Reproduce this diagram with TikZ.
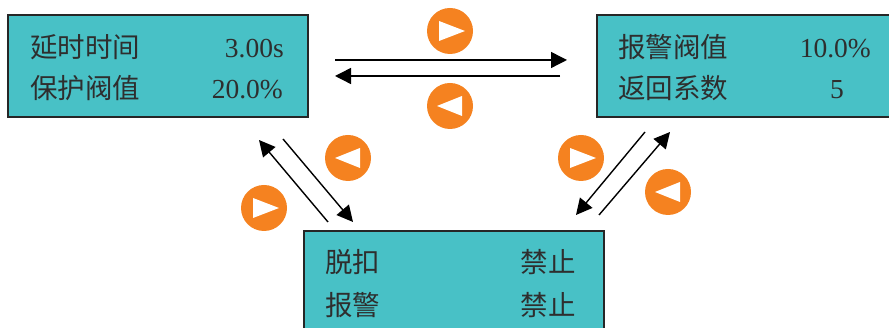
\documentclass[tikz,border=0pt]{standalone}
\usepackage{fontspec}
\setmainfont{Liberation Serif}
\newfontfamily\cjk{Noto Sans CJK SC}
\definecolor{panelteal}{HTML}{48C1C6}
\definecolor{btnorange}{HTML}{F58220}
\definecolor{inkdark}{HTML}{2E2E2E}
\usetikzlibrary{arrows.meta, positioning}

\begin{document}
\begin{tikzpicture}[
      x=1pt, y=1pt,
      panel/.style={draw=black!85, fill=panelteal, line width=1.5pt,
                   minimum height=102pt, inner sep=0pt},
      lbl/.style={inner sep=0pt, text=inkdark, font=\fontsize{27.5}{30}\selectfont},
      arr/.style={-{Stealth[length=16pt, width=16pt, inset=0pt]}, line width=1.4pt, black},
      btn/.style={circle, fill=btnorange, minimum size=46pt, inner sep=0pt},
      btnr/.style={btn, path picture={\fill[white, shift={(path picture bounding box.center)}]
                   (-11,10) -- (15,0) -- (-11,-10) -- cycle;}},
      btnl/.style={btn, path picture={\fill[white, shift={(path picture bounding box.center)}]
                   (12,10) -- (-13,0) -- (12,-10) -- cycle;}}
    ]
      \useasboundingbox (0,0) rectangle (889,328);

      \node[panel, minimum width=300pt] (dly) at (158,262) {};
      \node[panel, minimum width=300pt] (alm) at (747,262) {};
      \node[panel, minimum width=300pt, minimum height=106pt] (trip) at (454,44) {};

      % texts of the panels
      \node[lbl, anchor=base west] (dlyname) at (30,270) {\cjk 延时时间};
      \node[lbl, anchor=base east] (dlyval) at (284,270) {3.00s};
      \node[lbl, anchor=base west] (protname) at (30,229) {\cjk 保护阀值};
      \node[lbl, anchor=base east] (protval) at (283,229) {20.0\%};
      \node[lbl, anchor=base west] (almname) at (618,270) {\cjk 报警阀值};
      \node[lbl, anchor=base east] (almval) at (871,270) {10.0\%};
      \node[lbl, anchor=base west] (retname) at (618,229) {\cjk 返回系数};
      \node[lbl, anchor=base] (retval) at (837,229) {5};
      \node[lbl, anchor=base west] (tripname) at (325,55) {\cjk 脱扣};
      \node[lbl, anchor=base east] (tripval) at (576,55) {\cjk 禁止};
      \node[lbl, anchor=base west] (warnname) at (325,12.5) {\cjk 报警};
      \node[lbl, anchor=base east] (warnval) at (576,12.5) {\cjk 禁止};

      % buttons
      \node[btnr] (b1) at (450,297) {};
      \node[btnl] (b2) at (450,222) {};
      \node[btnl] (b3) at (348,170) {};
      \node[btnr] (b4) at (264,120) {};
      \node[btnr] (b5) at (581,170) {};
      \node[btnl] (b6) at (668,136) {};

      % arrow ends
      \coordinate (ta1) at (335,268);
      \coordinate (ta2) at (567,268);
      \coordinate (tb1) at (560,252);
      \coordinate (tb2) at (335,252);
      \coordinate (la1) at (328,106);
      \coordinate (la2) at (259,188);
      \coordinate (lb1) at (283,189);
      \coordinate (lb2) at (353,106);
      \coordinate (ra1) at (645,196);
      \coordinate (ra2) at (576,113);
      \coordinate (rb1) at (599,113);
      \coordinate (rb2) at (670,196);

      \draw[arr] (ta1) -- (ta2);
      \draw[arr] (tb1) -- (tb2);
      \draw[arr] (la1) -- (la2);
      \draw[arr] (lb1) -- (lb2);
      \draw[arr] (ra1) -- (ra2);
      \draw[arr] (rb1) -- (rb2);
    \end{tikzpicture}
\end{document}
